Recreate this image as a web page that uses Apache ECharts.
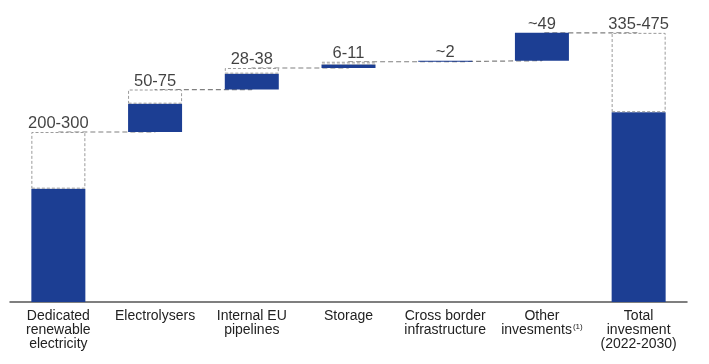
<!DOCTYPE html>
<html><head><meta charset="utf-8">
<script src="https://cdn.jsdelivr.net/npm/echarts@6/dist/echarts.min.js"></script>
<style>html,body{margin:0;padding:0;background:#fff}#c{width:709px;height:364px}</style>
</head><body><div id="c"></div>
<script>
var categories = ['Dedicated\nrenewable\nelectricity','Electrolysers','Internal EU\npipelines','Storage','Cross border\ninfrastructure','Other\ninvesments','Total\ninvesment\n(2022-2030)'];
var footnotes = ['','','','','','(1)',''];
var lowValues = [200, 50, 28, 6, 2, 49, 335];
var highValues = [300, 75, 38, 11, 2, 49, 475];
var valueLabels = ['200-300','50-75','28-38','6-11','~2','~49','335-475'];
var isTotal = [false,false,false,false,false,false,true];

// derived
var base = [], rangeExtra = [], tops = [];
var cum = 0;
for (var i = 0; i < categories.length; i++) {
  if (isTotal[i]) { base.push(0); tops.push(highValues[i]); }
  else { base.push(cum); cum += highValues[i]; tops.push(cum); }
  var ex = highValues[i] - lowValues[i];
  rangeExtra.push(ex > 0 ? ex : '-');
}
var BLUE = '#1c3e93';
var FONT = 'Liberation Sans, Arial, sans-serif';
var chart = echarts.init(document.getElementById('c'));
chart.setOption({
  animation: false,
  grid: {left: 10, right: 22, top: 18.7, bottom: 62, containLabel: false},
  xAxis: {
    type: 'category', data: categories,
    axisTick: {show: false},
    axisLine: {lineStyle: {color: '#555', width: 1.5}},
    axisLabel: {
      interval: 0, color: '#222', fontSize: 14, lineHeight: 14, margin: 7,
      fontFamily: FONT,
      formatter: function (v, i) { return footnotes[i] ? v + '{sup|' + footnotes[i] + '}' : v; },
      rich: {sup: {fontSize: 8, color: '#222', padding: [0, 0, 7, 1], fontFamily: FONT}}
    }
  },
  yAxis: {type: 'value', min: 0, max: 500, show: false, splitLine: {show: false}},
  series: [
    {
      type: 'line', step: 'end', data: tops, symbol: 'none', z: 1,
      lineStyle: {color: '#808080', width: 1.2, type: [5, 3]}
    },
    {
      type: 'bar', stack: 'w', data: base, barWidth: 54, z: 3,
      itemStyle: {color: 'rgba(0,0,0,0)'}, silent: true
    },
    {
      type: 'bar', stack: 'w', data: lowValues, barWidth: 54, z: 3,
      itemStyle: {color: BLUE}
    },
    {
      type: 'bar', stack: 'w', data: rangeExtra, barWidth: 54, z: 3,
      itemStyle: {color: '#fff', borderColor: '#9a9a9a', borderWidth: 1, borderType: [3, 2]}
    },
    {
      type: 'scatter', data: tops, symbolSize: 0, z: 4,
      label: {
        show: true, position: 'top', distance: 0, color: '#111', fontSize: 16.5,
        fontFamily: FONT,
        formatter: function (p) { return valueLabels[p.dataIndex]; }
      }
    }
  ]
});
</script></body></html>
